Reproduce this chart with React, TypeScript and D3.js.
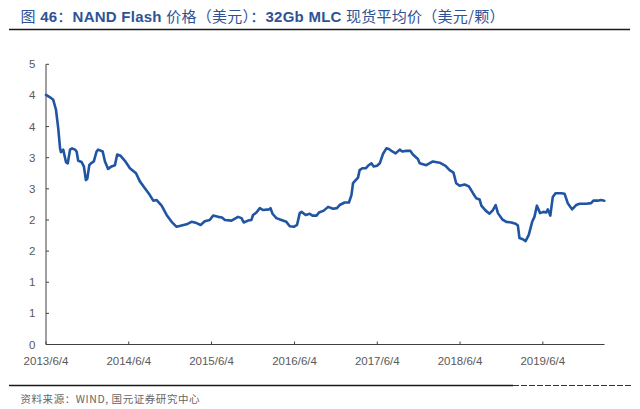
import React from "react";
import * as d3 from "d3";

const dates: string[] = [
  "2013-06-04","2013-06-22","2013-07-06","2013-07-18","2013-07-28","2013-08-05","2013-08-09","2013-08-19","2013-08-31","2013-09-08",
  "2013-09-18","2013-09-27","2013-10-10","2013-10-17","2013-10-24","2013-11-08","2013-11-18","2013-11-27","2013-12-03","2013-12-12",
  "2013-12-19","2014-01-01","2014-01-13","2014-01-20","2014-02-09","2014-02-19","2014-03-05","2014-03-20","2014-04-04","2014-04-14",
  "2014-04-29","2014-05-18","2014-06-09","2014-07-06","2014-07-23","2014-08-14","2014-09-05","2014-09-20","2014-10-05","2014-10-27",
  "2014-11-18","2014-12-10","2015-01-01","2015-01-23","2015-02-14","2015-03-08","2015-03-30","2015-04-17","2015-05-05","2015-05-27",
  "2015-06-11","2015-07-03","2015-07-20","2015-08-02","2015-08-31","2015-09-29","2015-10-14","2015-10-24","2015-11-12","2015-11-27",
  "2015-12-04","2015-12-19","2016-01-03","2016-01-17","2016-02-13","2016-02-19","2016-02-28","2016-03-16","2016-04-07","2016-04-29",
  "2016-05-14","2016-06-01","2016-06-15","2016-06-27","2016-07-05","2016-07-23","2016-08-10","2016-08-22","2016-09-09","2016-09-20",
  "2016-10-11","2016-10-30","2016-11-21","2016-12-08","2016-12-20","2017-01-11","2017-01-30","2017-02-10","2017-02-17","2017-03-01",
  "2017-03-11","2017-03-18","2017-03-30","2017-04-14","2017-04-24","2017-05-09","2017-05-19","2017-06-03","2017-06-15","2017-06-29",
  "2017-07-14","2017-07-25","2017-08-09","2017-08-24","2017-09-11","2017-09-22","2017-10-10","2017-10-28","2017-11-08","2017-11-30",
  "2017-12-08","2018-01-06","2018-02-04","2018-03-06","2018-04-01","2018-04-19","2018-05-06","2018-05-18","2018-06-02","2018-06-24",
  "2018-07-13","2018-07-31","2018-08-14","2018-08-29","2018-09-06","2018-09-25","2018-10-12","2018-10-27","2018-11-08","2018-11-18",
  "2018-12-07","2018-12-25","2019-01-16","2019-02-04","2019-02-14","2019-02-21","2019-03-08","2019-03-20","2019-04-03","2019-04-18",
  "2019-04-28","2019-05-09","2019-05-23","2019-06-07","2019-06-19","2019-06-26","2019-07-07","2019-07-18","2019-07-30","2019-08-24",
  "2019-09-08","2019-09-22","2019-10-11","2019-10-29","2019-11-13","2019-12-12","2020-01-03","2020-01-13","2020-02-01","2020-02-16",
  "2020-03-01"
];

const prices: number[] = [
  4.01,3.97,3.93,3.77,3.47,3.15,3.09,3.13,2.93,2.91,
  3.13,3.15,3.13,3.10,2.95,2.93,2.86,2.64,2.66,2.88,
  2.91,2.94,3.10,3.13,3.10,2.94,2.82,2.86,2.88,3.05,
  3.03,2.95,2.83,2.75,2.62,2.51,2.40,2.31,2.32,2.23,
  2.08,1.97,1.89,1.91,1.93,1.97,1.95,1.92,1.98,2.00,
  2.07,2.05,2.04,2.00,1.99,2.05,2.03,1.96,1.99,2.00,
  2.08,2.12,2.19,2.16,2.17,2.19,2.10,2.03,2.00,1.97,
  1.90,1.89,1.92,2.11,2.13,2.08,2.10,2.07,2.07,2.12,
  2.15,2.21,2.18,2.19,2.24,2.28,2.28,2.40,2.59,2.64,
  2.68,2.80,2.83,2.83,2.87,2.91,2.86,2.87,2.91,3.06,
  3.15,3.14,3.10,3.07,3.13,3.10,3.11,3.11,3.05,2.98,
  2.91,2.88,2.94,2.92,2.87,2.80,2.76,2.59,2.55,2.57,
  2.54,2.43,2.35,2.33,2.23,2.15,2.10,2.16,2.24,2.11,
  2.01,1.97,1.96,1.94,1.91,1.71,1.69,1.66,1.76,1.97,
  2.05,2.23,2.11,2.13,2.12,2.17,2.07,2.37,2.43,2.43,
  2.42,2.27,2.17,2.24,2.26,2.26,2.27,2.31,2.31,2.32,
  2.31
];

const xTickDates: string[] = ["2013-06-04","2014-06-04","2015-06-04","2016-06-04","2017-06-04","2018-06-04","2019-06-04"];
const yTicks: number[] = [0, 0.5, 1, 1.5, 2, 2.5, 3, 3.5, 4, 4.5];

const source = "资料来源：WIND, 国元证券研究中心";

const parse = d3.timeParse("%Y-%m-%d");
const fmt = d3.timeFormat("%Y/%-m/%-d");

export default function App() {
  const W = 640, H = 409;
  const x = d3.scaleTime()
    .domain([parse("2013-06-04")!, parse("2020-03-02")!])
    .range([46, 604.5]);
  const y = d3.scaleLinear().domain([0, 4.5]).range([344.5, 64.3]);
  const data = dates.map((d, i) => ({ d: parse(d)!, v: prices[i] }));
  const line = d3.line<{ d: Date; v: number }>()
    .x((p) => x(p.d))
    .y((p) => y(p.v))
    .curve(d3.curveLinear);

  const axisColor = "#404040";
  const textColor = "#595959";
  const latin = "'Liberation Sans', Arial, sans-serif";
  const cjk = "'Noto Sans CJK SC', sans-serif";

  return (
    <svg width={W} height={H} style={{ position: "absolute", left: 0, top: 0, background: "#fff" }}>
      <rect x={0} y={0} width={W} height={H} fill="#fff" />
      {/* Title */}
      <text x={20.5} y={21.5} fill="#2E5395" fontSize={15} fontFamily={`${latin}, ${cjk}`}
        textLength={484} lengthAdjust="spacing">
        <tspan fontFamily={cjk} fontWeight={400}>图</tspan>
        <tspan fontWeight={700}> 46</tspan>
        <tspan fontFamily={cjk} fontWeight={400}>：</tspan>
        <tspan fontWeight={700}>NAND Flash </tspan>
        <tspan fontFamily={cjk} fontWeight={400}>价格（美元）：</tspan>
        <tspan fontWeight={700}>32Gb MLC </tspan>
        <tspan fontFamily={cjk} fontWeight={400}>现货平均价（美元/颗）</tspan>
      </text>
      <line x1={9} x2={630} y1={29.5} y2={29.5} stroke="#1a1a1a" strokeWidth={1.6} />

      {/* Y axis */}
      <line x1={46} x2={46} y1={y(4.5)} y2={y(0)} stroke={axisColor} strokeWidth={1} />
      {yTicks.map((t) => (
        <g key={t}>
          <line x1={46} x2={49} y1={y(t)} y2={y(t)} stroke={axisColor} strokeWidth={1} />
          <text x={35.5} y={y(t)} dy="0.35em" textAnchor="end" fontSize={11.5} fill={textColor} fontFamily={latin}>
            {d3.format(".0f")(Math.round(t))}
          </text>
        </g>
      ))}

      {/* X axis */}
      <line x1={46} x2={604.5} y1={y(0)} y2={y(0)} stroke={axisColor} strokeWidth={1} />
      {xTickDates.map((s) => {
        const dt = parse(s)!;
        const xx = x(dt);
        return (
          <g key={s}>
            <line x1={xx} x2={xx} y1={y(0)} y2={y(0) - 3} stroke={axisColor} strokeWidth={1} />
            <text x={xx} y={365} textAnchor="middle" fontSize={11.5} fill={textColor} fontFamily={latin}>
              {fmt(dt)}
            </text>
          </g>
        );
      })}

      {/* Data line */}
      <path d={line(data) || ""} fill="none" stroke="#1F55A3" strokeWidth={2.6} strokeLinejoin="round" strokeLinecap="round" />

      {/* Footer */}
      <line x1={9} x2={513} y1={385.5} y2={385.5} stroke="#1a1a1a" strokeWidth={1.6} />
      <line x1={513} x2={632} y1={385.5} y2={385.5} stroke="#333" strokeWidth={1.2} strokeDasharray="6 2" />
      <text x={20.5} y={402.5} fontSize={10.5} fill="#666" fontFamily={cjk} textLength={179} lengthAdjust="spacing">
        {source}
      </text>
    </svg>
  );
}
